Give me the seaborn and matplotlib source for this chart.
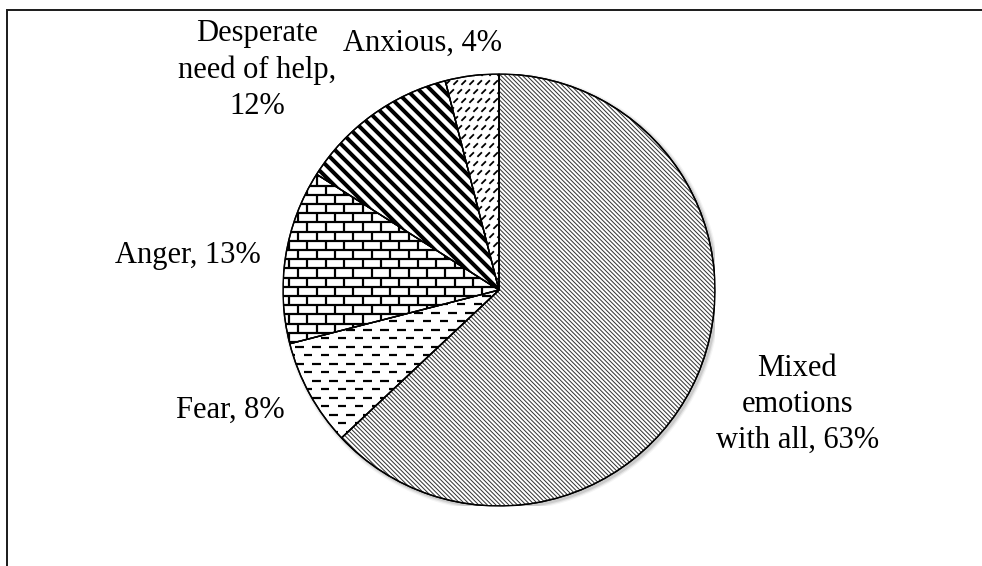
import numpy as np
import matplotlib
matplotlib.use("Agg")
import matplotlib.pyplot as plt
import seaborn as sns
from matplotlib.collections import LineCollection
from matplotlib.patches import Wedge, Rectangle, Circle

# ---- data ----
categories = ["Mixed emotions with all", "Fear", "Anger",
              "Desperate need of help", "Anxious"]
values = [63, 8, 13, 12, 4]
label_texts = ["Mixed\nemotions\nwith all, 63%", "Fear, 8%", "Anger, 13%",
               "Desperate\nneed of help,\n12%", "Anxious, 4%"]

# ---- layout (not data) ----
label_xy = [(1.380, -0.528), (-1.245, -0.556), (-1.440, 0.162),
            (-1.120, 1.018), (-0.356, 1.144)]

sns.set_theme(style="white")
plt.rcParams["font.family"] = ["Liberation Serif", "DejaVu Serif"]

W, H, DPI = 982, 566, 100
fig = plt.figure(figsize=(W / DPI, H / DPI), dpi=DPI)
fig.patch.set_facecolor("white")
CX, CY, R = 499, 290, 216
ax = fig.add_axes([(CX - R) / W, (H - CY - R) / H, 2 * R / W, 2 * R / H])

wedges, _ = ax.pie(values, startangle=90, counterclock=False, radius=1,
                   wedgeprops=dict(facecolor="white", edgecolor="black",
                                   linewidth=1.0))
ax.set_xlim(-1, 1)
ax.set_ylim(-1, 1)
ax.axis("off")

p = 1.0 / R  # one pixel in data units
PT = 0.72    # one pixel in points


def diag(period, slope):
    segs = []
    for c in np.arange(-3.0, 3.0, period * p):
        segs.append([(-1.2, slope * -1.2 + c), (1.2, slope * 1.2 + c)])
    return segs


def hdashes(row, dash, period):
    segs = []
    for i, y in enumerate(np.arange(-1.05, 1.05, row * p)):
        off = (i % 2) * period * p / 2
        for x in np.arange(-1.1 + off, 1.1, period * p):
            segs.append([(x, y), (x + dash * p, y)])
    return segs


def bricks(h, w):
    segs = []
    ys = np.arange(-1.05, 1.1, h * p)
    for y in ys:
        segs.append([(-1.1, y), (1.1, y)])
    for k, y in enumerate(ys[:-1]):
        off = (k % 2) * w * p / 2
        for x in np.arange(-1.1 + off, 1.1, w * p):
            segs.append([(x, y), (x, y + h * p)])
    return segs


def updashes(row, period, length):
    segs = []
    for i, y in enumerate(np.arange(-1.05, 1.1, row * p)):
        off = (i % 2) * period * p / 2
        for x in np.arange(-1.1 + off, 1.1, period * p):
            segs.append([(x, y), (x + length * p, y + length * p)])
    return segs


patterns = [
    (diag(4.3, -1), 1.0 * PT, "#333333"),
    (hdashes(8.5, 8.5, 17), 2.2 * PT, "black"),
    (bricks(9.2, 18.4), 2.2 * PT, "black"),
    (diag(12.0, -1), 4.0 * PT, "black"),
    (updashes(9.0, 8, 4.5), 1.8 * PT, "black"),
]

for w, (segs, lw, col) in zip(wedges, patterns):
    lc = LineCollection(segs, linewidths=lw, colors=col, zorder=2,
                        capstyle="butt")
    ax.add_collection(lc)
    lc.set_clip_path(w)
    ax.add_patch(Wedge(w.center, w.r, w.theta1, w.theta2, fill=False,
                       edgecolor="black", linewidth=1.0, zorder=3))

# soft shadow
for i, a in enumerate([0.10, 0.07, 0.04]):
    ax.add_patch(Circle((2 * p, -2 * p), 1 + (i + 1) * 1.2 * p,
                        color="black", alpha=a, zorder=0, lw=0))

for (x, y), t in zip(label_xy, label_texts):
    ax.text(x, y, t, ha="center", va="center", fontsize=22,
            linespacing=1.32, color="black")

fig.add_artist(Rectangle((7 / W, -0.5), 2, (H - 9.5) / H + 0.5,
                         transform=fig.transFigure, fill=False,
                         edgecolor="#1a1a1a", linewidth=1.4))

fig.savefig("out.png", dpi=DPI)
